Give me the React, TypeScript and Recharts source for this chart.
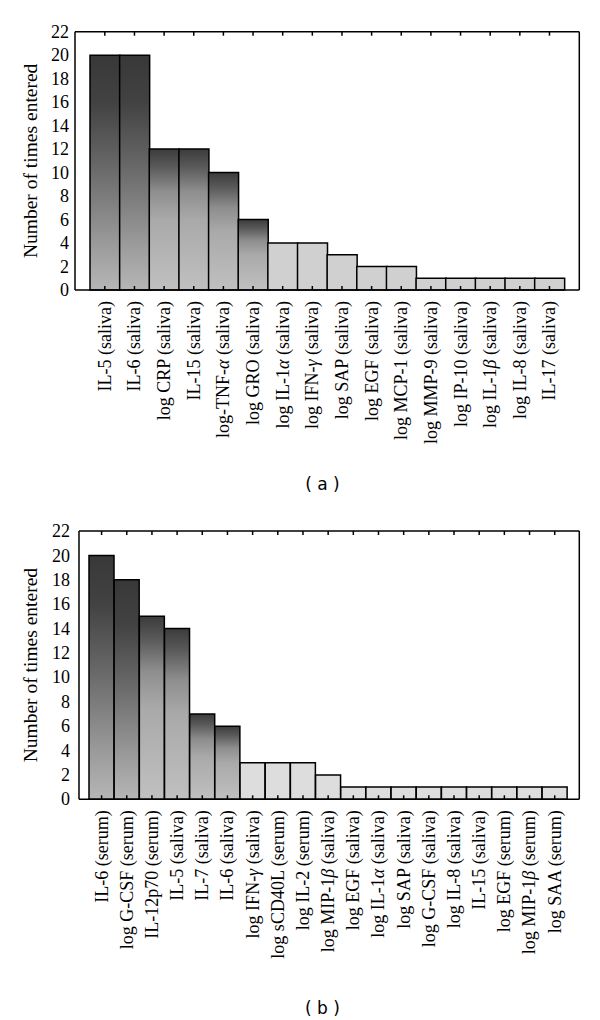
import { BarChart, Bar, XAxis, YAxis, Cell } from 'recharts';

const labelsA = [
    'IL-5 (saliva)', 'IL-6 (saliva)', 'log CRP (saliva)', 'IL-15 (saliva)', 'log-TNF-α (saliva)',
    'log GRO (saliva)', 'log IL-1α (saliva)', 'log IFN-γ (saliva)', 'log SAP (saliva)', 'log EGF (saliva)',
    'log MCP-1 (saliva)', 'log MMP-9 (saliva)', 'log IP-10 (saliva)', 'log IL-1β (saliva)', 'log IL-8 (saliva)',
    'IL-17 (saliva)',
];
const valuesA = [20, 20, 12, 12, 10, 6, 4, 4, 3, 2, 2, 1, 1, 1, 1, 1];

const labelsB = [
    'IL-6 (serum)', 'log G-CSF (serum)', 'IL-12p70 (serum)', 'IL-5 (saliva)', 'IL-7 (saliva)',
    'IL-6 (saliva)', 'log IFN-γ (saliva)', 'log sCD40L (serum)', 'log IL-2 (serum)', 'log MIP-1β (saliva)',
    'log EGF (saliva)', 'log IL-1α (saliva)', 'log SAP (saliva)', 'log G-CSF (saliva)', 'log IL-8 (saliva)',
    'IL-15 (saliva)', 'log EGF (serum)', 'log MIP-1β (serum)', 'log SAA (serum)',
];
const valuesB = [20, 18, 15, 14, 7, 6, 3, 3, 3, 2, 1, 1, 1, 1, 1, 1, 1, 1, 1];

const yTicks = [0, 2, 4, 6, 8, 10, 12, 14, 16, 18, 20, 22];

const SERIF = 'Liberation Serif, Times New Roman, serif';
const INK = '#000';

// greek letters are set in italic in the original
function CategoryTick(props: any) {
    const { x, y, payload } = props;
    const parts = String(payload.value).split(/([αβγ])/);
    return (
        <text
            transform={`translate(${x},${y}) rotate(-90)`}
            textAnchor="end"
            dy="0.33em"
            fill={INK}
            style={{ fontFamily: SERIF, fontSize: 18 }}
        >
            {parts.map((p, i) =>
                /[αβγ]/.test(p) ? <tspan key={i} fontStyle="italic">{p}</tspan> : <tspan key={i}>{p}</tspan>
            )}
        </text>
    );
}

function ValueTick(props: any) {
    const { x, y, payload } = props;
    return (
        <text x={x} y={y} dy="0.34em" textAnchor="end" fill={INK} style={{ fontFamily: SERIF, fontSize: 18 }}>
            {payload.value}
        </text>
    );
}

const NoTick = () => <g />;

function pickFill(id: string, v: number, light: string) {
    if (v >= 18) return `url(#${id}-tall)`;
    if (v >= 6) return `url(#${id}-mid)`;
    return light;
}

function Panel({ id, labels, values, light, top, height, marginTop, yWidth, padL, padR, labelDx, tickGap }: any) {
    const data = labels.map((name: string, i: number) => ({ name, count: values[i] }));
    return (
        <div style={{ position: 'absolute', left: 0, top, width: 600, height }}>
            <BarChart
                width={600}
                height={height}
                data={data}
                barCategoryGap={0}
                barGap={0}
                margin={{ top: marginTop, right: 19.7, left: 0, bottom: 0 }}
            >
                <defs>
                    <linearGradient id={`${id}-tall`} x1="0" y1="0" x2="0" y2="1">
                        <stop offset="0" stopColor="#383838" />
                        <stop offset="0.2" stopColor="#424242" />
                        <stop offset="0.5" stopColor="#6c6c6c" />
                        <stop offset="0.8" stopColor="#9a9a9a" />
                        <stop offset="1" stopColor="#b6b6b6" />
                    </linearGradient>
                    <linearGradient id={`${id}-mid`} x1="0" y1="0" x2="0" y2="1">
                        <stop offset="0" stopColor="#3c3c3c" />
                        <stop offset="0.12" stopColor="#585858" />
                        <stop offset="0.3" stopColor="#8e8e8e" />
                        <stop offset="0.5" stopColor="#a9a9a9" />
                        <stop offset="1" stopColor="#c0c0c0" />
                    </linearGradient>
                </defs>
                <XAxis
                    xAxisId="bottom"
                    dataKey="name"
                    interval={0}
                    height={height - 290 + (id === 'b' ? 0.7 : 0)}
                    padding={{ left: padL, right: padR }}
                    axisLine={{ stroke: INK, strokeWidth: 1.5 }}
                    tickLine={{ stroke: INK, strokeWidth: 1.5 }}
                    tickSize={-4}
                    tickMargin={15}
                    tick={<CategoryTick />}
                />
                <XAxis
                    xAxisId="top"
                    orientation="top"
                    dataKey="name"
                    interval={0}
                    height={1}
                    padding={{ left: padL, right: padR }}
                    axisLine={{ stroke: INK, strokeWidth: 1.5 }}
                    tickLine={{ stroke: INK, strokeWidth: 1.5 }}
                    tickSize={-4}
                    tick={NoTick}
                />
                <YAxis
                    yAxisId="left"
                    width={yWidth}
                    domain={[0, 22]}
                    ticks={yTicks}
                    interval={0}
                    axisLine={{ stroke: INK, strokeWidth: 1.5 }}
                    tickLine={false}
                    tickSize={4}
                    tickMargin={tickGap}
                    tick={<ValueTick />}
                    label={{
                        value: 'Number of times entered',
                        angle: -90,
                        position: 'center',
                        dx: labelDx,
                        style: { fontSize: 19.5, fontFamily: SERIF, fill: INK },
                    }}
                />
                <YAxis
                    yAxisId="right"
                    orientation="right"
                    width={1}
                    domain={[0, 22]}
                    ticks={yTicks}
                    interval={0}
                    axisLine={{ stroke: INK, strokeWidth: 1.5 }}
                    tickLine={{ stroke: INK, strokeWidth: 1.5 }}
                    tickSize={-4}
                    tick={NoTick}
                />
                <Bar
                    xAxisId="bottom"
                    yAxisId="left"
                    dataKey="count"
                    stroke={INK}
                    strokeWidth={1.5}
                    isAnimationActive={false}
                >
                    {values.map((v: number, i: number) => (
                        <Cell key={i} fill={pickFill(id, v, light)} />
                    ))}
                </Bar>
            </BarChart>
        </div>
    );
}

const captionStyle: any = {
    position: 'absolute',
    left: 0,
    width: 645,
    textAlign: 'center',
    fontFamily: 'DejaVu Sans, Verdana, sans-serif',
    fontSize: 17,
    lineHeight: '20px',
    color: INK,
    whiteSpace: 'pre',
};

export default function App() {
    return (
        <div style={{ position: 'absolute', left: 0, top: 0, width: 600, height: 1020, background: '#fff' }}>
            <Panel
                id="a"
                labels={labelsA}
                values={valuesA}
                light="#d0d0d0"
                top={0}
                height={470}
                marginTop={30.7}
                yWidth={75}
                padL={15}
                padR={15}
                labelDx={-7}
                tickGap={2}
            />
            <div style={{ ...captionStyle, top: 474 }}>( a )</div>
            <Panel
                id="b"
                labels={labelsB}
                values={valuesB}
                light="#dddddd"
                top={510}
                height={470}
                marginTop={20}
                yWidth={79}
                padL={10}
                padR={12}
                labelDx={-9}
                tickGap={5}
            />
            <div style={{ ...captionStyle, top: 998 }}>( b )</div>
        </div>
    );
}
